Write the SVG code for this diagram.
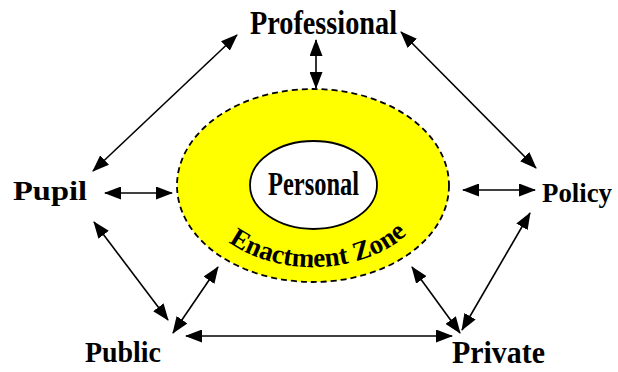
<svg xmlns="http://www.w3.org/2000/svg" width="618" height="372" viewBox="0 0 618 372">
<style>
.lbl{font-family:"Liberation Serif","Times New Roman",serif;font-weight:bold;fill:#000}
.con line{stroke:#000;stroke-width:1.6;marker-start:url(#ah);marker-end:url(#ah)}
</style>
<defs>
<marker id="ah" viewBox="0 0 17 13" refX="16" refY="6.5" markerWidth="17" markerHeight="13" markerUnits="userSpaceOnUse" orient="auto-start-reverse">
<path d="M0,0 L17,6.5 L0,13 z" fill="#000"/>
</marker>
<path id="arc" d="M196,186 A117,81 0 0,0 430,186"/>
</defs>
<rect width="618" height="372" fill="#fff"/>
<g id="enactment-zone">
<ellipse cx="313" cy="185.5" rx="136" ry="96.5" fill="#ffff00" stroke="#000" stroke-width="1.8" stroke-dasharray="6,4"/>
<text class="lbl" font-size="27"><textPath href="#arc" startOffset="52%" text-anchor="middle">Enactment Zone</textPath></text>
</g>
<g id="personal">
<ellipse cx="313.5" cy="185" rx="63.5" ry="44" fill="#fff" stroke="#000" stroke-width="1.8"/>
<text class="lbl" x="313.5" y="195" font-size="34" text-anchor="middle" textLength="91" lengthAdjust="spacingAndGlyphs">Personal</text>
</g>
<g id="professional"><text class="lbl" x="250" y="34" font-size="33" textLength="147" lengthAdjust="spacingAndGlyphs">Professional</text></g>
<g id="pupil"><text class="lbl" x="13" y="200" font-size="28" textLength="74" lengthAdjust="spacingAndGlyphs">Pupil</text></g>
<g id="policy"><text class="lbl" x="542" y="202" font-size="28" textLength="70" lengthAdjust="spacingAndGlyphs">Policy</text></g>
<g id="public"><text class="lbl" x="85" y="362" font-size="29" textLength="76" lengthAdjust="spacingAndGlyphs">Public</text></g>
<g id="private"><text class="lbl" x="452" y="363" font-size="31" textLength="93" lengthAdjust="spacingAndGlyphs">Private</text></g>
<g id="connectors" class="con">
<line x1="93" y1="171" x2="237" y2="35"/>
<line x1="316" y1="40" x2="316" y2="88"/>
<line x1="401" y1="32" x2="536" y2="168"/>
<line x1="105" y1="193" x2="172" y2="193"/>
<line x1="463" y1="190" x2="535" y2="190"/>
<line x1="94" y1="222" x2="168" y2="320"/>
<line x1="173" y1="333" x2="218" y2="267"/>
<line x1="186" y1="336" x2="452" y2="336"/>
<line x1="412" y1="267" x2="460" y2="333"/>
<line x1="530" y1="213" x2="462" y2="330"/>
</g>
</svg>
